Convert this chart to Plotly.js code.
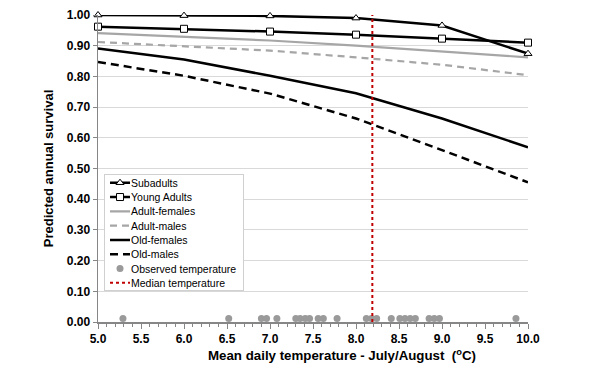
<!DOCTYPE html>
<html>
<head>
<meta charset="utf-8">
<script src="https://cdn.plot.ly/plotly-3.0.1.min.js"></script>
<style>html,body{margin:0;padding:0;background:#fff;}#chart{width:597px;height:376px;}</style>
</head>
<body>
<div id="chart"></div>
<script>
const temps = [5, 6, 7, 8, 9, 10];
const subadults = [1.000, 0.998, 0.997, 0.990, 0.966, 0.874];
const youngAdults = [0.962, 0.955, 0.946, 0.936, 0.923, 0.910];
const adultFemales = [0.941, 0.930, 0.917, 0.900, 0.882, 0.862];
const adultMales = [0.912, 0.899, 0.884, 0.862, 0.838, 0.804];
const oldFemales = [0.891, 0.855, 0.802, 0.745, 0.663, 0.569];
const oldMales = [0.847, 0.802, 0.744, 0.663, 0.560, 0.455];
const observedTemps = [5.29, 6.52, 6.90, 6.96, 7.08, 7.30, 7.35, 7.41, 7.46, 7.56, 7.62, 7.78,
  8.12, 8.18, 8.24, 8.41, 8.51, 8.57, 8.63, 8.69, 8.85, 8.91, 8.97, 9.86];
const observedLevel = 0.011;
const medianTemp = 8.19;
const xTicks = [5.0, 5.5, 6.0, 6.5, 7.0, 7.5, 8.0, 8.5, 9.0, 9.5, 10.0];
const xTickText = ['5.0','5.5','6.0','6.5','7.0','7.5','8.0','8.5','9.0','9.5','10.0'];
const yTicks = [0, 0.1, 0.2, 0.3, 0.4, 0.5, 0.6, 0.7, 0.8, 0.9, 1.0];

const traces = [
  {x: temps, y: subadults, name: 'Subadults', mode: 'lines+markers', cliponaxis: false,
   line: {color: '#000', width: 2.5},
   marker: {symbol: 'triangle-up', size: 7, color: '#fff', line: {color: '#000', width: 1}}},
  {x: temps, y: youngAdults, name: 'Young Adults', mode: 'lines+markers', cliponaxis: false,
   line: {color: '#000', width: 2.5},
   marker: {symbol: 'square', size: 7, color: '#fff', line: {color: '#000', width: 1}}},
  {x: temps, y: adultFemales, name: 'Adult-females', mode: 'lines',
   line: {color: '#a6a6a6', width: 2.2}},
  {x: temps, y: adultMales, name: 'Adult-males', mode: 'lines',
   line: {color: '#a6a6a6', width: 2.2, dash: '7px,5px'}},
  {x: temps, y: oldFemales, name: 'Old-females', mode: 'lines',
   line: {color: '#000', width: 2.5}},
  {x: temps, y: oldMales, name: 'Old-males', mode: 'lines',
   line: {color: '#000', width: 2.5, dash: '8px,5px'}},
  {x: observedTemps, y: observedTemps.map(() => observedLevel), name: 'Observed temperature', mode: 'markers',
   cliponaxis: false, marker: {symbol: 'circle', size: 7, color: '#9a9a9a'}},
  {x: [medianTemp, medianTemp], y: [0, 1.0], name: 'Median temperature', mode: 'lines',
   line: {color: '#c00000', width: 2, dash: 'dot'}}
];

const layout = {
  width: 597, height: 376,
  margin: {l: 98, r: 69, t: 15, b: 54},
  paper_bgcolor: '#fff', plot_bgcolor: '#fff',
  font: {family: 'Liberation Sans, Arial, sans-serif', color: '#000'},
  showlegend: true,
  legend: {
    x: 0.014, y: 0.483, xanchor: 'left', yanchor: 'top',
    bgcolor: '#fff', bordercolor: '#d0d0d0', borderwidth: 1,
    font: {size: 10.5, family: 'Liberation Sans, Arial, sans-serif', color: '#000'},
    itemwidth: 30, tracegroupgap: 0
  },
  xaxis: {
    range: [5, 10], tickvals: xTicks, ticktext: xTickText,
    showgrid: false, zeroline: false,
    showline: true, linecolor: '#868686', linewidth: 1.5,
    ticks: 'outside', ticklen: 5, tickcolor: '#868686',
    minor: {dtick: 0.1, ticks: 'outside', ticklen: 3, tickcolor: '#868686', showgrid: false},
    tickfont: {size: 12, family: 'Liberation Sans, Arial, sans-serif', weight: 'bold'},
    title: {text: 'Mean daily temperature - July/August  (<sup>o</sup>C)',
            font: {size: 13.3, family: 'Liberation Sans, Arial, sans-serif', weight: 'bold'}, standoff: 6}
  },
  yaxis: {
    range: [0, 1.0], tickvals: yTicks, tickformat: '.2f',
    showgrid: true, gridcolor: '#d9d9d9', gridwidth: 1, zeroline: false,
    showline: true, linecolor: '#868686', linewidth: 1.5,
    ticks: 'outside', ticklen: 4, tickcolor: '#868686',
    tickfont: {size: 12, family: 'Liberation Sans, Arial, sans-serif', weight: 'bold'},
    title: {text: 'Predicted annual survival',
            font: {size: 13, family: 'Liberation Sans, Arial, sans-serif', weight: 'bold'}, standoff: 10}
  }
};

Plotly.newPlot('chart', traces, layout, {displayModeBar: false, staticPlot: true}).then(function (gd) {
  // x-axis title sits right of centre in the reference
  const xt = gd.querySelector('.g-xtitle text, text.xtitle');
  if (xt) {
    const cx = parseFloat(xt.getAttribute('x'));
    xt.setAttribute('x', cx + 29);
    xt.querySelectorAll('tspan[x]').forEach(function (s) {
      s.setAttribute('x', parseFloat(s.getAttribute('x')) + 29);
    });
  }
  // compact the legend rows to match the reference spacing
  const leg = gd.querySelector('.legend');
  if (!leg) return;
  const items = leg.querySelectorAll('.traces');
  const rowGap = 14.3, firstY = 9;
  items.forEach(function (g, i) {
    g.setAttribute('transform', 'translate(1,' + (firstY + i * rowGap) + ')');
    g.querySelectorAll('.legendlines path').forEach(function (p) { p.setAttribute('d', 'M5,0h20'); });
    g.querySelectorAll('.legendpoints path.scatterpts').forEach(function (p) { p.setAttribute('transform', 'translate(15,0)'); });
    g.querySelectorAll('text.legendtext').forEach(function (t) { t.setAttribute('x', '26'); });
  });
  const bg = leg.querySelector('rect.bg');
  if (bg) {
    bg.setAttribute('width', 139);
    bg.setAttribute('height', firstY + (items.length - 1) * rowGap + 7);
  }
});
</script>
</body>
</html>
